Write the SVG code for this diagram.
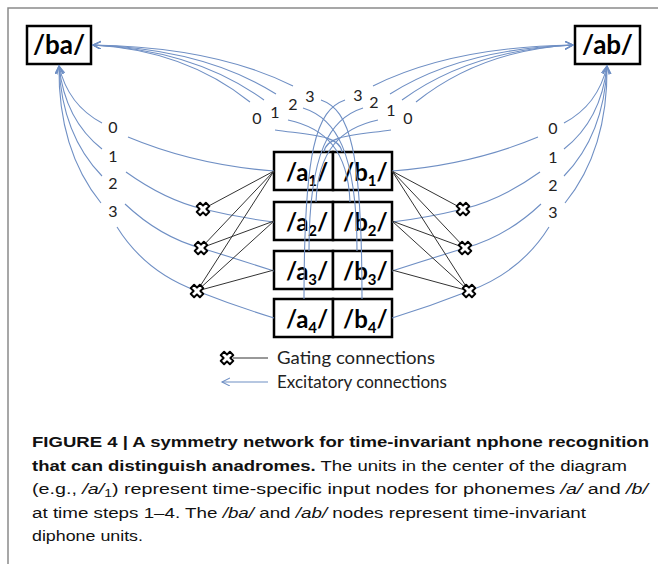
<svg xmlns="http://www.w3.org/2000/svg" xmlns:xlink="http://www.w3.org/1999/xlink" width="658" height="564" viewBox="0 0 658 564">
  <style>
    .frame{stroke:#8a8a8a;stroke-width:1.5;fill:none}
    .box{fill:#fff;stroke:#000;stroke-width:2.5}
    .exc{fill:none;stroke:#6f8fc4;stroke-width:1.1}
    .arr{marker-end:url(#ah)}
    .gate{fill:none;stroke:#333;stroke-width:1}
    .node{font-family:Lato,"Open Sans",sans-serif;font-weight:700;fill:#000}
    .num{font-family:Lato,"Open Sans",sans-serif;font-size:16px;fill:#222;text-anchor:middle}
    .leg{font-family:Lato,"Open Sans",sans-serif;font-size:17px;fill:#222}
    .cap{font-family:"Liberation Sans",Arial,sans-serif;font-size:15.5px;fill:#111}
  </style>
  <defs>
    <marker id="ah" markerUnits="userSpaceOnUse" markerWidth="10" markerHeight="10" refX="8" refY="4" orient="auto">
      <path d="M0,0 L8,4 L0,8" fill="none" stroke="#6f8fc4" stroke-width="1.1"/>
    </marker>
    <path id="gx" d="M-2.4,-6.5 L2.4,-6.5 L2.4,-2.4 L6.5,-2.4 L6.5,2.4 L2.4,2.4 L2.4,6.5 L-2.4,6.5 L-2.4,2.4 L-6.5,2.4 L-6.5,-2.4 L-2.4,-2.4 Z" transform="rotate(45)" fill="#fff" stroke="#000" stroke-width="2" stroke-linejoin="round"/>
  </defs>

  <!-- frame -->
  <path class="frame" d="M8,564 L8,8 L658,8"/>

  <!-- nodes -->
  <g id="node-ba">
    <rect class="box" x="27" y="26" width="64" height="38"/>
    <text class="node" x="59" y="54" font-size="26" text-anchor="middle">/ba/</text>
  </g>
  <g id="node-ab">
    <rect class="box" x="575" y="26" width="65" height="38"/>
    <text class="node" x="607.5" y="54" font-size="26" text-anchor="middle">/ab/</text>
  </g>
  <g id="node-a1">
    <rect class="box" x="274" y="152" width="59" height="38"/>
    <text class="node" x="286" y="181" font-size="24">/a<tspan font-size="15" dy="5">1</tspan><tspan dy="-5">/</tspan></text>
  </g>
  <g id="node-b1">
    <rect class="box" x="333" y="152" width="59" height="38"/>
    <text class="node" x="343" y="181" font-size="24">/b<tspan font-size="15" dy="5">1</tspan><tspan dy="-5">/</tspan></text>
  </g>
  <g id="node-a2">
    <rect class="box" x="274" y="202" width="59" height="38"/>
    <text class="node" x="286" y="231" font-size="24">/a<tspan font-size="15" dy="5">2</tspan><tspan dy="-5">/</tspan></text>
  </g>
  <g id="node-b2">
    <rect class="box" x="333" y="202" width="59" height="38"/>
    <text class="node" x="343" y="231" font-size="24">/b<tspan font-size="15" dy="5">2</tspan><tspan dy="-5">/</tspan></text>
  </g>
  <g id="node-a3">
    <rect class="box" x="274" y="251" width="59" height="38"/>
    <text class="node" x="286" y="280" font-size="24">/a<tspan font-size="15" dy="5">3</tspan><tspan dy="-5">/</tspan></text>
  </g>
  <g id="node-b3">
    <rect class="box" x="333" y="251" width="59" height="38"/>
    <text class="node" x="343" y="280" font-size="24">/b<tspan font-size="15" dy="5">3</tspan><tspan dy="-5">/</tspan></text>
  </g>
  <g id="node-a4">
    <rect class="box" x="274" y="299" width="59" height="38"/>
    <text class="node" x="286" y="328" font-size="24">/a<tspan font-size="15" dy="5">4</tspan><tspan dy="-5">/</tspan></text>
  </g>
  <g id="node-b4">
    <rect class="box" x="333" y="299" width="59" height="38"/>
    <text class="node" x="343" y="328" font-size="24">/b<tspan font-size="15" dy="5">4</tspan><tspan dy="-5">/</tspan></text>
  </g>

  <!-- connectors -->
  <g id="connectors">
    <!-- left side excitatory to /ba/ bottom -->
    <path class="exc arr" d="M102,123 Q68,105 59,66"/>
    <path class="exc arr" d="M102,149 Q65,120 59,66"/>
    <path class="exc arr" d="M102,176 Q62,135 59,66"/>
    <path class="exc arr" d="M101,203 Q58,150 59,66"/>
    <path class="exc" d="M128,137 Q195,165 274,171"/>
    <path class="exc" d="M126,172 Q165,200 203,209 Q240,218 274,222"/>
    <path class="exc" d="M125,204 Q160,237 201,248 Q240,260 274,271"/>
    <path class="exc" d="M117,227 Q145,272 197,291 Q235,306 274,318"/>
    <!-- right side excitatory to /ab/ bottom -->
    <path class="exc arr" d="M564,123 Q598,105 607,66"/>
    <path class="exc arr" d="M564,149 Q601,120 607,66"/>
    <path class="exc arr" d="M564,176 Q604,135 607,66"/>
    <path class="exc arr" d="M565,203 Q608,150 607,66"/>
    <path class="exc" d="M538,137 Q471,165 392,171"/>
    <path class="exc" d="M540,172 Q501,200 463,209 Q426,218 392,222"/>
    <path class="exc" d="M541,204 Q506,237 465,248 Q426,260 392,271"/>
    <path class="exc" d="M549,227 Q521,272 469,291 Q431,306 392,318"/>
    <!-- top-left group to /ba/ right edge -->
    <path class="exc arr" d="M250,102 Q185,50 93,45"/>
    <path class="exc arr" d="M264,100 Q195,50 93,45"/>
    <path class="exc arr" d="M276,94 Q205,49 93,45"/>
    <path class="exc arr" d="M293,86 Q215,47 93,45"/>
    <path class="exc" d="M275,130 C310,135 340,135 342,152"/>
    <path class="exc" d="M288,120 C325,128 348,150 350,202"/>
    <path class="exc" d="M303,108 C335,118 357,150 357,251"/>
    <path class="exc" d="M321,100 C350,110 362,150 362,299"/>
    <!-- top-right group to /ab/ left edge -->
    <path class="exc arr" d="M416,102 Q481,50 573,45"/>
    <path class="exc arr" d="M402,100 Q471,50 573,45"/>
    <path class="exc arr" d="M390,94 Q461,49 573,45"/>
    <path class="exc arr" d="M373,86 Q451,47 573,45"/>
    <path class="exc" d="M391,130 C356,135 326,135 324,152"/>
    <path class="exc" d="M378,120 C341,128 318,150 316,202"/>
    <path class="exc" d="M363,108 C331,118 309,150 309,251"/>
    <path class="exc" d="M345,100 C316,110 304,150 304,299"/>

    <!-- gating lines -->
    <path class="gate" d="M274,171 L203,209 M274,171 L201,248 M274,171 L197,291 M274,221 L201,248 M274,221 L197,291 M274,270 L197,291"/>
    <path class="gate" d="M392,171 L463,209 M392,171 L465,248 M392,171 L469,291 M392,221 L465,248 M392,221 L469,291 M392,270 L469,291"/>
    <use xlink:href="#gx" x="203" y="209"/>
    <use xlink:href="#gx" x="201" y="248"/>
    <use xlink:href="#gx" x="197" y="291"/>
    <use xlink:href="#gx" x="463" y="209"/>
    <use xlink:href="#gx" x="465" y="248"/>
    <use xlink:href="#gx" x="469" y="291"/>
  </g>

  <!-- connector labels -->
  <g id="labels">
    <text class="num" x="113" y="133">0</text>
    <text class="num" x="113" y="162">1</text>
    <text class="num" x="113" y="189">2</text>
    <text class="num" x="113" y="217">3</text>
    <text class="num" x="553" y="134">0</text>
    <text class="num" x="553" y="163">1</text>
    <text class="num" x="553" y="191">2</text>
    <text class="num" x="553" y="218">3</text>
    <text class="num" x="257" y="124">0</text>
    <text class="num" x="275" y="118">1</text>
    <text class="num" x="293" y="110">2</text>
    <text class="num" x="310" y="102">3</text>
    <text class="num" x="358" y="101">3</text>
    <text class="num" x="374" y="108">2</text>
    <text class="num" x="391" y="116">1</text>
    <text class="num" x="408" y="124">0</text>
  </g>

  <!-- legend -->
  <g id="legend">
    <line class="gate" x1="233" y1="358" x2="268" y2="358"/>
    <use xlink:href="#gx" x="227" y="358"/>
    <text class="leg" x="277" y="364" textLength="158" lengthAdjust="spacingAndGlyphs">Gating connections</text>
    <line class="exc arr" x1="268" y1="382" x2="222" y2="382"/>
    <text class="leg" x="277" y="388" textLength="170" lengthAdjust="spacingAndGlyphs">Excitatory connections</text>
  </g>

  <!-- caption -->
  <g id="caption">
    <text class="cap" x="32" y="447" font-weight="bold" textLength="617" lengthAdjust="spacingAndGlyphs">FIGURE 4 | A symmetry network for time-invariant nphone recognition</text>
    <text class="cap" x="32" y="471" textLength="595" lengthAdjust="spacingAndGlyphs"><tspan font-weight="bold">that can distinguish anadromes.</tspan> The units in the center of the diagram</text>
    <text class="cap" x="32" y="494" textLength="616" lengthAdjust="spacingAndGlyphs">(e.g., <tspan font-style="italic">/a/</tspan><tspan font-size="11" dy="3">1</tspan><tspan dy="-3">) represent time-specific input nodes for phonemes </tspan><tspan font-style="italic">/a/</tspan> and <tspan font-style="italic">/b/</tspan></text>
    <text class="cap" x="32" y="518" textLength="554" lengthAdjust="spacingAndGlyphs">at time steps 1–4. The <tspan font-style="italic">/ba/</tspan> and <tspan font-style="italic">/ab/</tspan> nodes represent time-invariant</text>
    <text class="cap" x="32" y="541" textLength="111" lengthAdjust="spacingAndGlyphs">diphone units.</text>
  </g>
</svg>
